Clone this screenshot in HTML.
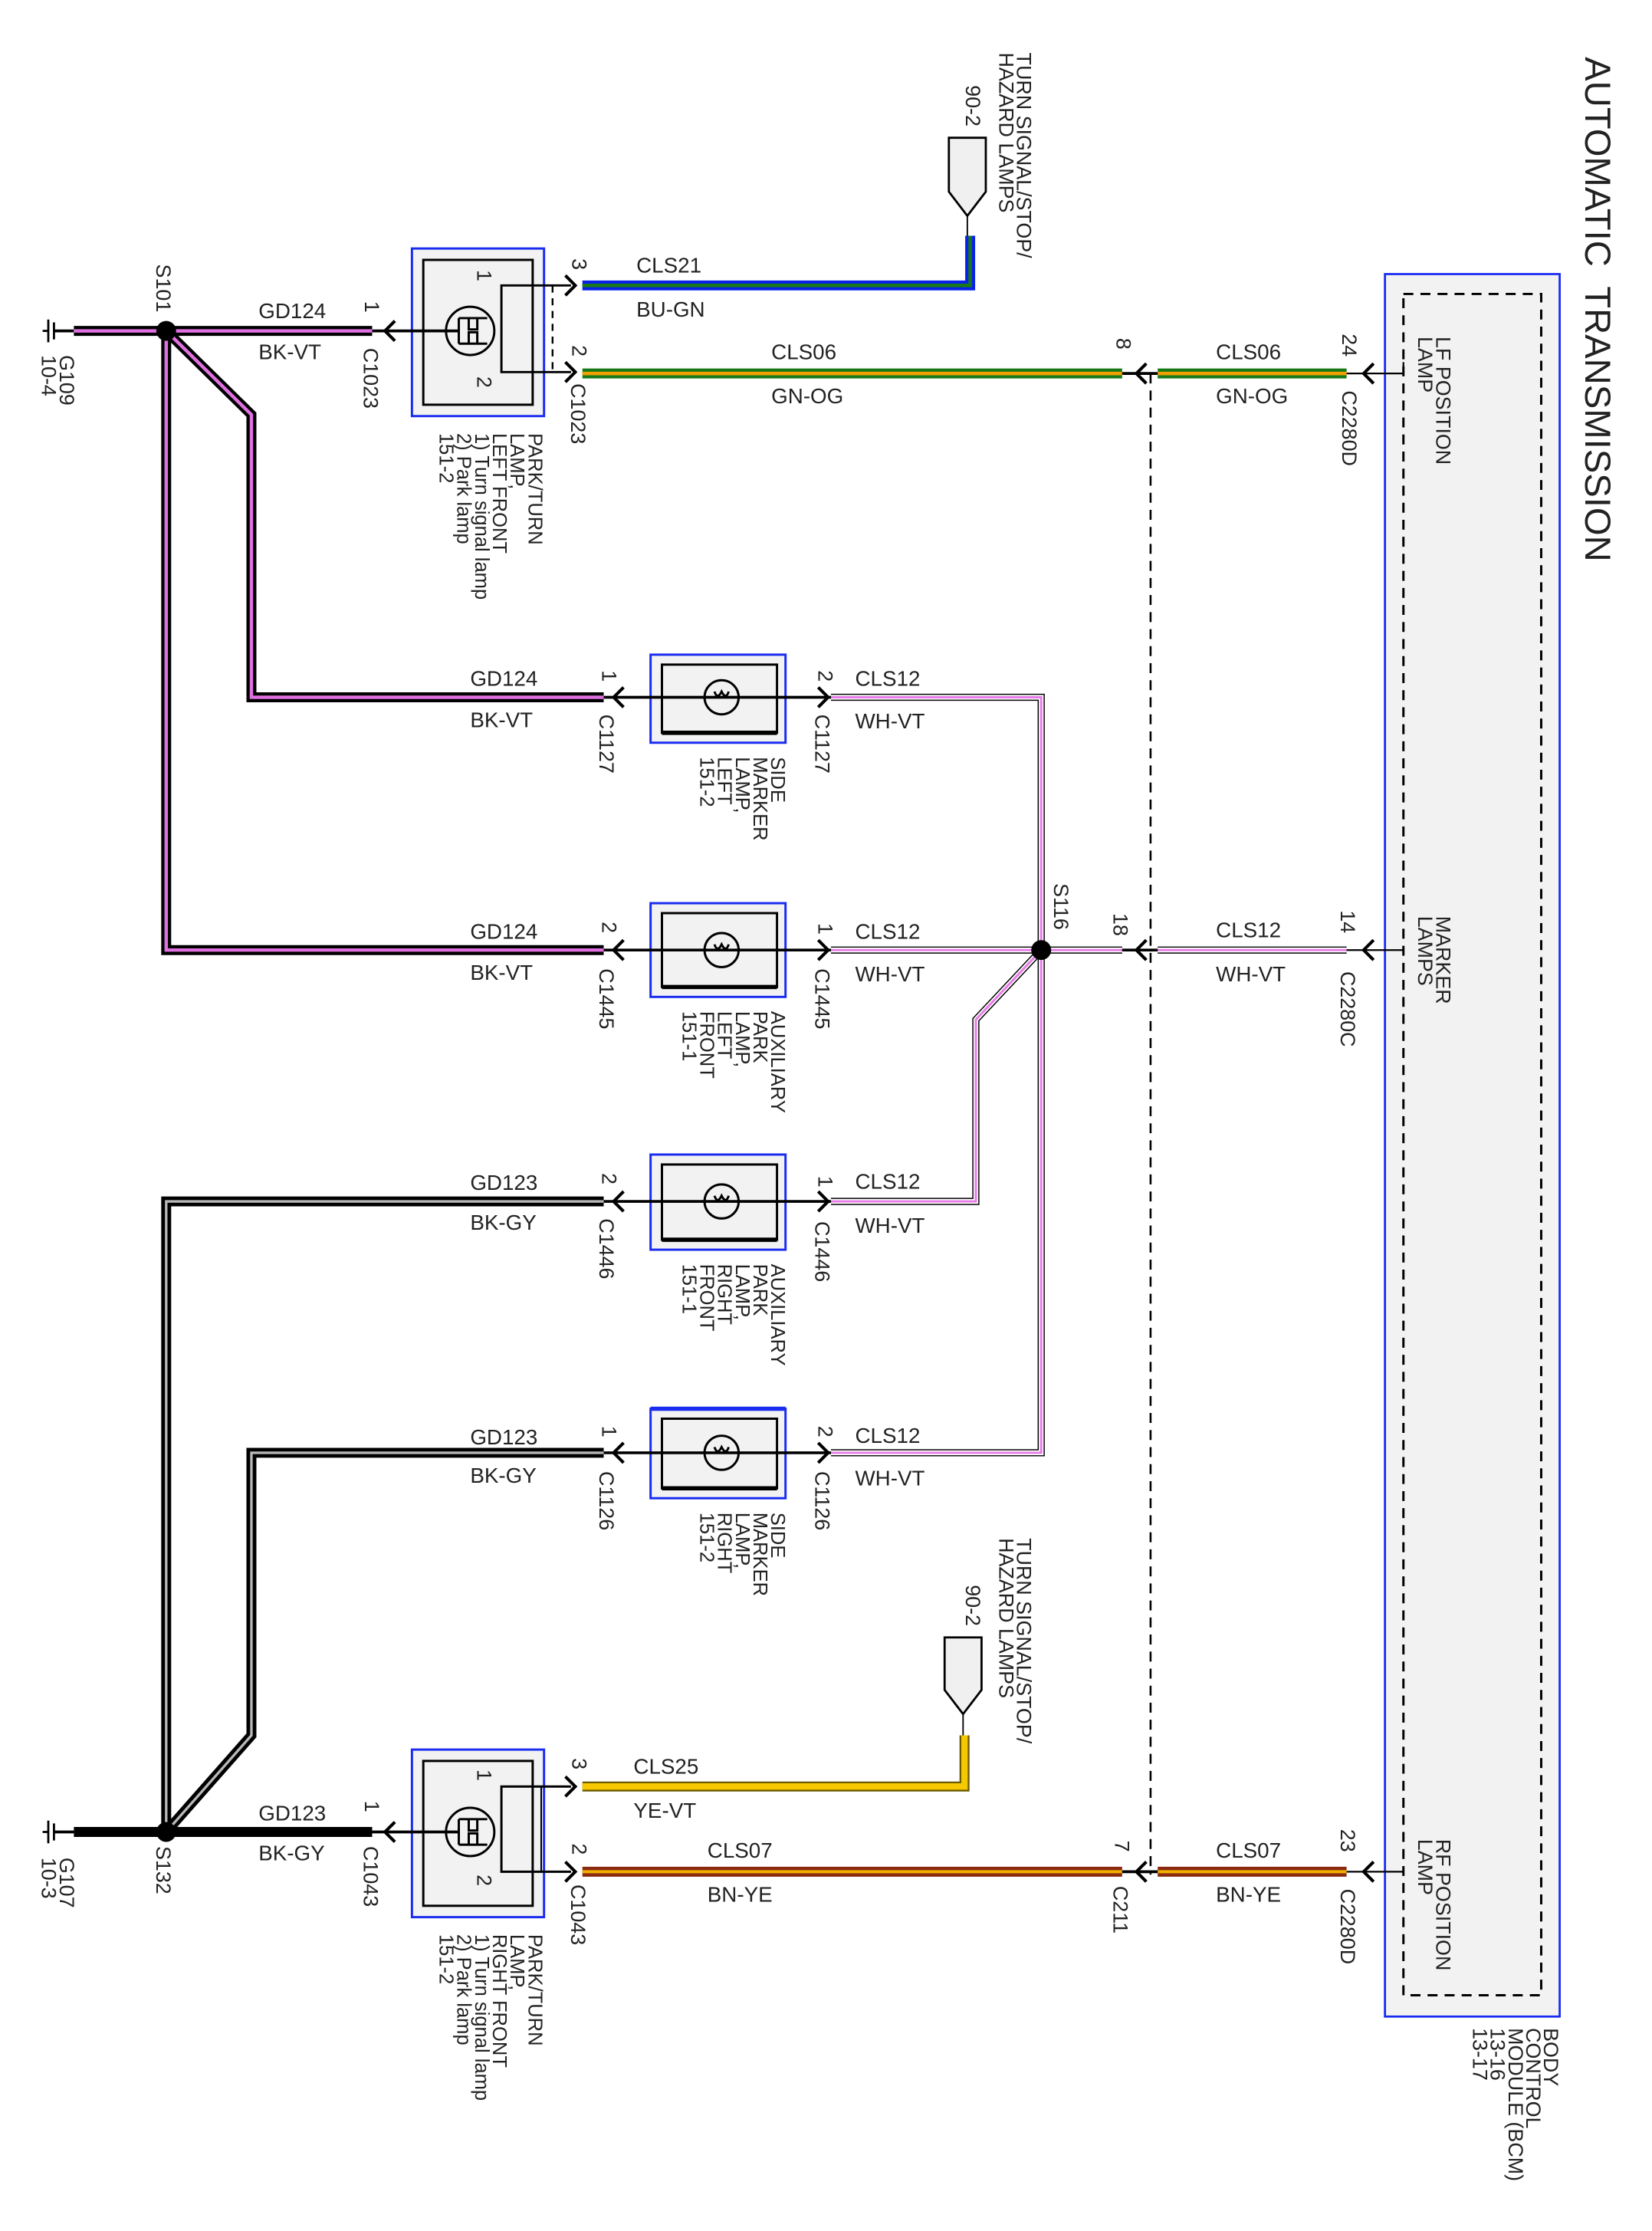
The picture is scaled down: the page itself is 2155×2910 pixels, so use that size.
<!DOCTYPE html>
<html><head><meta charset="utf-8"><style>
html,body{margin:0;padding:0;background:#fff;}
svg{display:block;}
text{font-family:"Liberation Sans",sans-serif;fill:#222;}
.t{font-size:15px;}
.r{font-size:14.5px;}
.p{font-size:13.8px;}
</style></head><body>
<svg width="2155" height="2910" viewBox="0 0 1163 1571" preserveAspectRatio="none" xmlns="http://www.w3.org/2000/svg">
<rect width="1163" height="1571" fill="#fff"/>

<text transform="translate(1116,40) rotate(90)" style="font-size:25.5px" xml:space="preserve">AUTOMATIC  TRANSMISSION</text>

<rect x="975" y="193" width="123" height="1227" fill="#f2f2f2" stroke="#1a2cf0" stroke-width="1.5"/>
<rect x="988" y="207" width="97" height="1198" fill="none" stroke="#000" stroke-width="1.6" stroke-dasharray="7,5"/>
<text class="r" transform="translate(1011,237) rotate(90)"><tspan x="0" y="0">LF POSITION</tspan><tspan x="0" dy="12.5">LAMP</tspan></text>
<text class="r" transform="translate(1011,645) rotate(90)"><tspan x="0" y="0">MARKER</tspan><tspan x="0" dy="12.5">LAMPS</tspan></text>
<text class="r" transform="translate(1011,1295) rotate(90)"><tspan x="0" y="0">RF POSITION</tspan><tspan x="0" dy="12.5">LAMP</tspan></text>
<text class="r" transform="translate(1087,1428) rotate(90)"><tspan x="0" y="0">BODY</tspan><tspan x="0" dy="12.5">CONTROL</tspan><tspan x="0" dy="12.5">MODULE (BCM)</tspan><tspan x="0" dy="12.5">13-16</tspan><tspan x="0" dy="12.5">13-17</tspan></text>

<line x1="810" y1="263" x2="810" y2="1320" stroke="#000" stroke-width="1.4" stroke-dasharray="7,5"/>

<text class="r" transform="translate(716,37) rotate(90)"><tspan x="0" y="0">TURN SIGNAL/STOP/</tspan><tspan x="0" dy="12.5">HAZARD LAMPS</tspan></text>
<text class="r" transform="translate(680,60) rotate(90)">90-2</text>
<path d="M668,97 H694 V135 L681,152 L668,135 Z" fill="#f0f0f0" stroke="#000" stroke-width="1.5"/>
<line x1="681" y1="152" x2="681" y2="166" stroke="#000" stroke-width="1"/>
<polyline points="410,201 683,201 683,166" fill="none" stroke="#0a22e8" stroke-width="7"/>
<polyline points="410,201 683,201 683,166" fill="none" stroke="#177a17" stroke-width="2.5"/>
<text class="t" x="448" y="192">CLS21</text>
<text class="t" x="448" y="223">BU-GN</text>

<line x1="410" y1="263" x2="790" y2="263" stroke="#177a17" stroke-width="7"/>
<line x1="410" y1="263" x2="790" y2="263" stroke="#f0a000" stroke-width="2.5"/>
<line x1="815" y1="263" x2="948" y2="263" stroke="#177a17" stroke-width="7"/>
<line x1="815" y1="263" x2="948" y2="263" stroke="#f0a000" stroke-width="2.5"/>
<line x1="790" y1="263" x2="815" y2="263" stroke="#000" stroke-width="2"/>
<line x1="948" y1="263" x2="988" y2="263" stroke="#000" stroke-width="1.2"/>
<line x1="988" y1="255" x2="988" y2="263" stroke="#000" stroke-width="1.2"/>
<polyline points="807,256 800,263 807,270" fill="none" stroke="#000" stroke-width="2.2"/>
<polyline points="967,256 960,263 967,270" fill="none" stroke="#000" stroke-width="2.2"/>
<text class="t" x="543" y="253">CLS06</text>
<text class="t" x="543" y="284">GN-OG</text>
<text class="t" x="856" y="253">CLS06</text>
<text class="t" x="856" y="284">GN-OG</text>
<text class="r" transform="translate(786,238) rotate(90)">8</text>
<text class="r" transform="translate(945,235) rotate(90)">24</text>
<text class="r" transform="translate(945,275) rotate(90)">C2280D</text>

<rect x="290" y="175" width="93" height="118" fill="#f2f2f2" stroke="#1a2cf0" stroke-width="1.6"/>
<rect x="298" y="183" width="77" height="102" fill="#f2f2f2" stroke="#000" stroke-width="1.6"/>
<circle cx="331" cy="233" r="17" fill="none" stroke="#000" stroke-width="1.6"/>
<path d="M323,224 H343 M323,242 H343 M330,224 v8 h6 v-8 M330,242 v-8 h6 v8 M323,224 v18" fill="none" stroke="#000" stroke-width="1.6"/>
<polyline points="402,201 353,201 353,262 402,262" fill="none" stroke="#000" stroke-width="1.6"/>
<line x1="389" y1="201" x2="389" y2="262" stroke="#000" stroke-width="1.3" stroke-dasharray="5,4"/>
<line x1="262" y1="233" x2="323" y2="233" stroke="#000" stroke-width="2"/>
<polyline points="278,226 271,233 278,240" fill="none" stroke="#000" stroke-width="2.2"/>
<polyline points="398,194 405,201 398,208" fill="none" stroke="#000" stroke-width="2.2"/>
<polyline points="398,255 405,262 398,269" fill="none" stroke="#000" stroke-width="2.2"/>
<text class="r" transform="translate(336,190) rotate(90)">1</text>
<text class="r" transform="translate(336,265) rotate(90)">2</text>
<text class="r" transform="translate(403,182) rotate(90)">3</text>
<text class="r" transform="translate(403,243) rotate(90)">2</text>
<text class="r" transform="translate(402,270) rotate(90)">C1023</text>
<text class="r" transform="translate(257,212) rotate(90)">1</text>
<text class="r" transform="translate(256,245) rotate(90)">C1023</text>
<text class="p" transform="translate(372,305) rotate(90)"><tspan x="0" y="0">PARK/TURN</tspan><tspan x="0" dy="12.5">LAMP,</tspan><tspan x="0" dy="12.5">LEFT FRONT</tspan><tspan x="0" dy="12.5">1) Turn signal lamp</tspan><tspan x="0" dy="12.5">2) Park lamp</tspan><tspan x="0" dy="12.5">151-2</tspan></text>

<line x1="34" y1="225" x2="34" y2="241" stroke="#000" stroke-width="1.5"/>
<line x1="38" y1="227" x2="38" y2="239" stroke="#000" stroke-width="1.5"/>
<line x1="30" y1="233" x2="34" y2="233" stroke="#000" stroke-width="1.5"/>
<line x1="38" y1="233" x2="52" y2="233" stroke="#000" stroke-width="2"/>
<g fill="none" stroke="#000" stroke-width="7" stroke-linejoin="miter">
<line x1="52" y1="233" x2="262" y2="233"/>
<polyline points="117,233 177,292 177,491 425,491"/>
<polyline points="117,233 117,669 425,669"/>
</g>
<g fill="none" stroke="#e070e0" stroke-width="2.4">
<line x1="52" y1="233" x2="262" y2="233"/>
<polyline points="117,233 177,292 177,491 425,491"/>
<polyline points="117,233 117,669 425,669"/>
</g>
<circle cx="117" cy="233" r="7" fill="#000"/>
<text class="r" transform="translate(110,186) rotate(90)">S101</text>
<text class="r" transform="translate(42,250) rotate(90)"><tspan x="0" y="0">G109</tspan><tspan x="0" dy="12.5">10-4</tspan></text>
<text class="t" x="182" y="224">GD124</text>
<text class="t" x="182" y="253">BK-VT</text>

<g fill="none" stroke="#000" stroke-width="5">
<polyline points="585,491 733,491 733,1023 585,1023"/>
<line x1="585" y1="669" x2="790" y2="669"/>
<line x1="815" y1="669" x2="948" y2="669"/>
<polyline points="733,669 687,718 687,846 585,846"/>
</g>
<g fill="none" stroke="#fff" stroke-width="3.4">
<polyline points="585,491 733,491 733,1023 585,1023"/>
<line x1="585" y1="669" x2="790" y2="669"/>
<line x1="815" y1="669" x2="948" y2="669"/>
<polyline points="733,669 687,718 687,846 585,846"/>
</g>
<g fill="none" stroke="#e87ae8" stroke-width="1.6">
<polyline points="585,491 733,491 733,1023 585,1023"/>
<line x1="585" y1="669" x2="790" y2="669"/>
<line x1="815" y1="669" x2="948" y2="669"/>
<polyline points="733,669 687,718 687,846 585,846"/>
</g>
<circle cx="733" cy="669" r="7" fill="#000"/>
<line x1="790" y1="669" x2="815" y2="669" stroke="#000" stroke-width="2"/>
<line x1="948" y1="669" x2="988" y2="669" stroke="#000" stroke-width="1.2"/>
<polyline points="807,662 800,669 807,676" fill="none" stroke="#000" stroke-width="2.2"/>
<polyline points="967,662 960,669 967,676" fill="none" stroke="#000" stroke-width="2.2"/>
<text class="r" transform="translate(742,622) rotate(90)">S116</text>
<text class="r" transform="translate(784,643) rotate(90)">18</text>
<text class="r" transform="translate(944,641) rotate(90)">14</text>
<text class="r" transform="translate(944,684) rotate(90)">C2280C</text>
<text class="t" x="856" y="660">CLS12</text>
<text class="t" x="856" y="691">WH-VT</text>

<line x1="34" y1="1282" x2="34" y2="1298" stroke="#000" stroke-width="1.5"/>
<line x1="38" y1="1284" x2="38" y2="1296" stroke="#000" stroke-width="1.5"/>
<line x1="30" y1="1290" x2="34" y2="1290" stroke="#000" stroke-width="1.5"/>
<line x1="38" y1="1290" x2="52" y2="1290" stroke="#000" stroke-width="2"/>
<g fill="none" stroke="#000" stroke-width="7">
<line x1="52" y1="1290" x2="262" y2="1290"/>
<polyline points="117,1290 117,846 425,846"/>
<polyline points="117,1290 177,1222 177,1023 425,1023"/>
</g>
<g fill="none" stroke="#b8b8b8" stroke-width="1.8">
<polyline points="117,1290 117,846 425,846"/>
<polyline points="117,1290 177,1222 177,1023 425,1023"/>
</g>
<circle cx="117" cy="1290" r="7" fill="#000"/>
<text class="r" transform="translate(110,1300) rotate(90)">S132</text>
<text class="r" transform="translate(42,1308) rotate(90)"><tspan x="0" y="0">G107</tspan><tspan x="0" dy="12.5">10-3</tspan></text>
<text class="t" x="182" y="1282">GD123</text>
<text class="t" x="182" y="1310">BK-GY</text>

<rect x="458" y="461" width="95" height="62" fill="#f2f2f2" stroke="#1a2cf0" stroke-width="1.6"/>
<rect x="466" y="468" width="81" height="48" fill="#f2f2f2" stroke="#000" stroke-width="1.6"/>
<line x1="466" y1="516" x2="547" y2="516" stroke="#000" stroke-width="3"/>
<rect x="458" y="636" width="95" height="66" fill="#f2f2f2" stroke="#1a2cf0" stroke-width="1.6"/>
<rect x="466" y="643" width="81" height="52" fill="#f2f2f2" stroke="#000" stroke-width="1.6"/>
<line x1="466" y1="695" x2="547" y2="695" stroke="#000" stroke-width="3"/>
<rect x="458" y="813" width="95" height="67" fill="#f2f2f2" stroke="#1a2cf0" stroke-width="1.6"/>
<rect x="466" y="820" width="81" height="53" fill="#f2f2f2" stroke="#000" stroke-width="1.6"/>
<line x1="466" y1="873" x2="547" y2="873" stroke="#000" stroke-width="3"/>
<rect x="458" y="992" width="95" height="63" fill="#f2f2f2" stroke="#1a2cf0" stroke-width="1.6"/>
<line x1="458" y1="992" x2="553" y2="992" stroke="#1a2cf0" stroke-width="3"/>
<rect x="466" y="999" width="81" height="49" fill="#f2f2f2" stroke="#000" stroke-width="1.6"/>
<line x1="466" y1="1048" x2="547" y2="1048" stroke="#000" stroke-width="3"/>
<g fill="none" stroke="#000" stroke-width="1.6">
<circle cx="508" cy="491" r="12"/><circle cx="508" cy="669" r="12"/><circle cx="508" cy="846" r="12"/><circle cx="508" cy="1023" r="12"/>
<path d="M503,487 q2,6 5,0 q3,6 5,0 M503,665 q2,6 5,0 q3,6 5,0 M503,842 q2,6 5,0 q3,6 5,0 M503,1019 q2,6 5,0 q3,6 5,0"/>
</g>
<g stroke="#000" stroke-width="2">
<line x1="425" y1="491" x2="585" y2="491"/>
<line x1="425" y1="669" x2="585" y2="669"/>
<line x1="425" y1="846" x2="585" y2="846"/>
<line x1="425" y1="1023" x2="585" y2="1023"/>
</g>
<g fill="none" stroke="#000" stroke-width="2.2">
<polyline points="439,484 432,491 439,498"/><polyline points="576,484 583,491 576,498"/>
<polyline points="439,662 432,669 439,676"/><polyline points="576,662 583,669 576,676"/>
<polyline points="439,839 432,846 439,853"/><polyline points="576,839 583,846 576,853"/>
<polyline points="439,1016 432,1023 439,1030"/><polyline points="576,1016 583,1023 576,1030"/>
</g>
<text class="t" x="331" y="483">GD124</text><text class="t" x="331" y="512">BK-VT</text>
<text class="t" x="331" y="661">GD124</text><text class="t" x="331" y="690">BK-VT</text>
<text class="t" x="331" y="838">GD123</text><text class="t" x="331" y="866">BK-GY</text>
<text class="t" x="331" y="1017">GD123</text><text class="t" x="331" y="1044">BK-GY</text>
<text class="t" x="602" y="483">CLS12</text><text class="t" x="602" y="513">WH-VT</text>
<text class="t" x="602" y="661">CLS12</text><text class="t" x="602" y="691">WH-VT</text>
<text class="t" x="602" y="837">CLS12</text><text class="t" x="602" y="868">WH-VT</text>
<text class="t" x="602" y="1016">CLS12</text><text class="t" x="602" y="1046">WH-VT</text>

<text class="r" transform="translate(424,472) rotate(90)">1</text>
<text class="r" transform="translate(576,472) rotate(90)">2</text>
<text class="r" transform="translate(422,503) rotate(90)">C1127</text>
<text class="r" transform="translate(574,503) rotate(90)">C1127</text>
<text class="p" transform="translate(543,533) rotate(90)"><tspan x="0" y="0">SIDE</tspan><tspan x="0" dy="12.5">MARKER</tspan><tspan x="0" dy="12.5">LAMP,</tspan><tspan x="0" dy="12.5">LEFT</tspan><tspan x="0" dy="12.5">151-2</tspan></text>

<text class="r" transform="translate(424,649) rotate(90)">2</text>
<text class="r" transform="translate(576,650) rotate(90)">1</text>
<text class="r" transform="translate(422,682) rotate(90)">C1445</text>
<text class="r" transform="translate(574,682) rotate(90)">C1445</text>
<text class="p" transform="translate(543,712) rotate(90)"><tspan x="0" y="0">AUXILIARY</tspan><tspan x="0" dy="12.5">PARK</tspan><tspan x="0" dy="12.5">LAMP,</tspan><tspan x="0" dy="12.5">LEFT</tspan><tspan x="0" dy="12.5">FRONT</tspan><tspan x="0" dy="12.5">151-1</tspan></text>

<text class="r" transform="translate(424,826) rotate(90)">2</text>
<text class="r" transform="translate(576,828) rotate(90)">1</text>
<text class="r" transform="translate(422,858) rotate(90)">C1446</text>
<text class="r" transform="translate(574,860) rotate(90)">C1446</text>
<text class="p" transform="translate(543,890) rotate(90)"><tspan x="0" y="0">AUXILIARY</tspan><tspan x="0" dy="12.5">PARK</tspan><tspan x="0" dy="12.5">LAMP,</tspan><tspan x="0" dy="12.5">RIGHT</tspan><tspan x="0" dy="12.5">FRONT</tspan><tspan x="0" dy="12.5">151-1</tspan></text>

<text class="r" transform="translate(424,1004) rotate(90)">1</text>
<text class="r" transform="translate(576,1004) rotate(90)">2</text>
<text class="r" transform="translate(422,1036) rotate(90)">C1126</text>
<text class="r" transform="translate(574,1036) rotate(90)">C1126</text>
<text class="p" transform="translate(543,1065) rotate(90)"><tspan x="0" y="0">SIDE</tspan><tspan x="0" dy="12.5">MARKER</tspan><tspan x="0" dy="12.5">LAMP,</tspan><tspan x="0" dy="12.5">RIGHT</tspan><tspan x="0" dy="12.5">151-2</tspan></text>

<text class="r" transform="translate(716,1083) rotate(90)"><tspan x="0" y="0">TURN SIGNAL/STOP/</tspan><tspan x="0" dy="12.5">HAZARD LAMPS</tspan></text>
<text class="r" transform="translate(680,1116) rotate(90)">90-2</text>
<path d="M665,1153 H691 V1190 L678,1207 L665,1190 Z" fill="#f0f0f0" stroke="#000" stroke-width="1.5"/>
<line x1="678" y1="1207" x2="678" y2="1222" stroke="#000" stroke-width="1"/>
<polyline points="410,1258 679,1258 679,1222" fill="none" stroke="#6a5a00" stroke-width="7"/>
<polyline points="410,1258 679,1258 679,1222" fill="none" stroke="#f6c800" stroke-width="4.5"/>
<text class="t" x="446" y="1249">CLS25</text>
<text class="t" x="446" y="1280">YE-VT</text>

<line x1="410" y1="1318" x2="790" y2="1318" stroke="#8a2a10" stroke-width="7"/>
<line x1="410" y1="1318" x2="790" y2="1318" stroke="#f0b000" stroke-width="2.2"/>
<line x1="815" y1="1318" x2="948" y2="1318" stroke="#8a2a10" stroke-width="7"/>
<line x1="815" y1="1318" x2="948" y2="1318" stroke="#f0b000" stroke-width="2.2"/>
<line x1="790" y1="1318" x2="815" y2="1318" stroke="#000" stroke-width="2"/>
<line x1="948" y1="1318" x2="988" y2="1318" stroke="#000" stroke-width="1.2"/>
<polyline points="807,1311 800,1318 807,1325" fill="none" stroke="#000" stroke-width="2.2"/>
<polyline points="967,1311 960,1318 967,1325" fill="none" stroke="#000" stroke-width="2.2"/>
<text class="t" x="498" y="1308">CLS07</text>
<text class="t" x="498" y="1339">BN-YE</text>
<text class="t" x="856" y="1308">CLS07</text>
<text class="t" x="856" y="1339">BN-YE</text>
<text class="r" transform="translate(785,1296) rotate(90)">7</text>
<text class="r" transform="translate(784,1328) rotate(90)">C211</text>
<text class="r" transform="translate(944,1288) rotate(90)">23</text>
<text class="r" transform="translate(944,1330) rotate(90)">C2280D</text>

<rect x="290" y="1232" width="93" height="118" fill="#f2f2f2" stroke="#1a2cf0" stroke-width="1.6"/>
<rect x="298" y="1240" width="77" height="102" fill="#f2f2f2" stroke="#000" stroke-width="1.6"/>
<circle cx="331" cy="1290" r="17" fill="none" stroke="#000" stroke-width="1.6"/>
<path d="M323,1281 H343 M323,1299 H343 M330,1281 v8 h6 v-8 M330,1299 v-8 h6 v8 M323,1281 v18" fill="none" stroke="#000" stroke-width="1.6"/>
<polyline points="402,1258 353,1258 353,1318 402,1318" fill="none" stroke="#000" stroke-width="1.6"/>
<line x1="381" y1="1258" x2="381" y2="1318" stroke="#000" stroke-width="1.1"/>
<line x1="262" y1="1290" x2="323" y2="1290" stroke="#000" stroke-width="2"/>
<polyline points="278,1283 271,1290 278,1297" fill="none" stroke="#000" stroke-width="2.2"/>
<polyline points="398,1251 405,1258 398,1265" fill="none" stroke="#000" stroke-width="2.2"/>
<polyline points="398,1311 405,1318 398,1325" fill="none" stroke="#000" stroke-width="2.2"/>
<text class="r" transform="translate(336,1246) rotate(90)">1</text>
<text class="r" transform="translate(336,1320) rotate(90)">2</text>
<text class="r" transform="translate(403,1238) rotate(90)">3</text>
<text class="r" transform="translate(403,1298) rotate(90)">2</text>
<text class="r" transform="translate(402,1327) rotate(90)">C1043</text>
<text class="r" transform="translate(257,1268) rotate(90)">1</text>
<text class="r" transform="translate(256,1300) rotate(90)">C1043</text>
<text class="p" transform="translate(372,1362) rotate(90)"><tspan x="0" y="0">PARK/TURN</tspan><tspan x="0" dy="12.5">LAMP,</tspan><tspan x="0" dy="12.5">RIGHT FRONT</tspan><tspan x="0" dy="12.5">1) Turn signal lamp</tspan><tspan x="0" dy="12.5">2) Park lamp</tspan><tspan x="0" dy="12.5">151-2</tspan></text>
</svg>
</body></html>
